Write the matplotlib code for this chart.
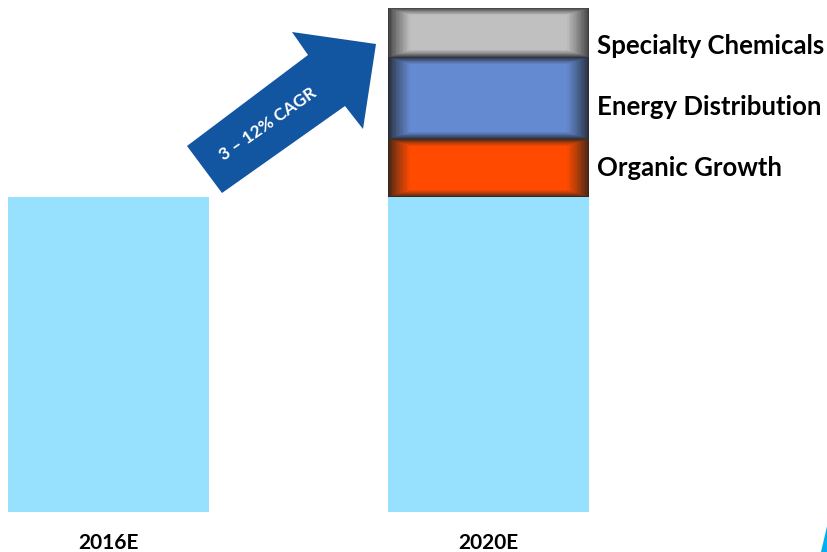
import matplotlib.pyplot as plt
import matplotlib.colors as mcolors
from matplotlib.patches import Polygon
import numpy as np

plt.rcParams['font.family'] = ['Lato', 'DejaVu Sans']

years = ['2016E', '2020E']
base = [100, 100]
seg_labels = ['Organic Growth', 'Energy Distribution', 'Specialty Chemicals']
seg_values = [18.4, 26.0, 15.6]
seg_colors = ['#FF4A00', '#648AD2', '#C0C0C0']
seg_edges = ['#3B2618', '#262B35', '#3C3C3C']
label_shift = [0, 9, 14]   # px downward shift of the side labels

x = np.arange(len(years))
width = 0.53
W, H = 828, 552

fig = plt.figure(figsize=(8.28, 5.52), dpi=100)
ax = fig.add_axes([0, 40 / H, 1, 512 / H])
ax.set_xlim(-0.2855, 1.893)
ax.set_ylim(0, 162.5)
px_x = 380.0    # pixels per x unit
px_y = 3.15     # pixels per y unit

ax.bar(x, base, width, color='#98E1FE', linewidth=0)


def mix(c1, c2, t):
    a = np.array(mcolors.to_rgb(c1))
    b = np.array(mcolors.to_rgb(c2))
    return tuple(a + (b - a) * t)


def shaded_bar(xc, bottom, height, color, edge, hx=22, vy=7, n=16):
    for i in range(n + 1):
        t = i / n
        c = mix(edge, color, t ** 0.8)
        dx = hx * t / px_x
        dy = vy * t / px_y
        ax.bar(xc, height - 2 * dy, width - 2 * dx, bottom=bottom + dy,
               color=c, linewidth=0)


bottom = base[1]
for lab, v, c, e, sh in zip(seg_labels, seg_values, seg_colors, seg_edges, label_shift):
    shaded_bar(x[1], bottom, v, c, e)
    ax.text(x[1] + width / 2 + 8 / px_x, bottom + v / 2 - sh / px_y, lab,
            ha='left', va='center', fontsize=18.5, fontweight='bold', color='black')
    bottom += v

ax.set_xticks(x, years)
ax.tick_params(axis='x', length=0, pad=15, labelsize=15)
for t in ax.get_xticklabels():
    t.set_fontweight('bold')
ax.set_yticks([])
for s in ax.spines.values():
    s.set_visible(False)
ax.patch.set_alpha(0)

# growth arrow (pixel coords, top-left origin)
arrow_px = [(222, 193), (187, 146), (308, 55), (292, 32), (376, 44), (363, 129), (345, 106)]
pts = [(px / W, 1 - py / H) for px, py in arrow_px]
fig.patches.append(Polygon(pts, closed=True, transform=fig.transFigure,
                           facecolor='#1256A1', edgecolor='none'))
fig.text(268 / W, 1 - 124 / H, '3 – 12% CAGR', rotation=35, ha='center', va='center',
         fontsize=12.5, fontweight='bold', color='white')

# logo fragment bottom right
tri = [(828 / W, 1 - 522 / H), (821 / W, 0), (828 / W, 0)]
fig.patches.append(Polygon(tri, closed=True, transform=fig.transFigure,
                           facecolor='#00AEEF', edgecolor='none'))

plt.savefig('out.png', dpi=100)
